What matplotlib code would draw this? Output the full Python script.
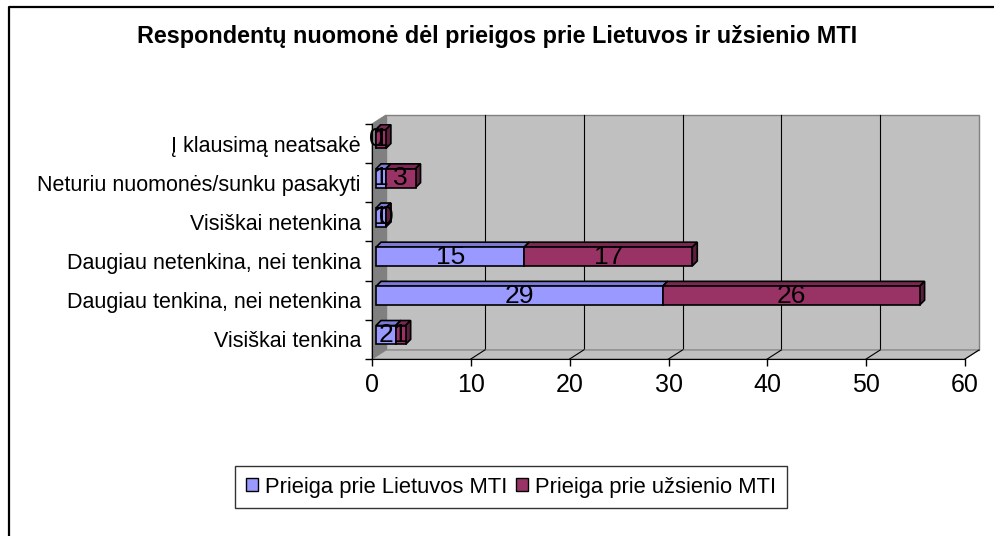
import matplotlib.pyplot as plt
from matplotlib.patches import Polygon, Rectangle
from matplotlib.lines import Line2D

plt.rcParams['font.family'] = ['Liberation Sans', 'DejaVu Sans']

categories = ['Visiškai tenkina', 'Daugiau tenkina, nei netenkina',
              'Daugiau netenkina, nei tenkina', 'Visiškai netenkina',
              'Neturiu nuomonės/sunku pasakyti', 'Į klausimą neatsakė']
lietuvos = [2, 29, 15, 1, 1, 0]
uzsienio = [1, 26, 17, 0, 3, 1]
series_names = ['Prieiga prie Lietuvos MTI', 'Prieiga prie užsienio MTI']
xticks = [0, 10, 20, 30, 40, 50, 60]
title = 'Respondentų nuomonė dėl prieigos prie Lietuvos ir užsienio MTI'

W, H = 995, 536
fig = plt.figure(figsize=(W / 100, H / 100), dpi=100)

# front plane of the 3d box, in pixels
x0p, x1p, ytop, ybot = 372, 965, 124, 359
ax = fig.add_axes([x0p / W, 1 - ybot / H, (x1p - x0p) / W, (ybot - ytop) / H])
ax.set_xlim(0, 60)
ax.set_ylim(-0.5, len(categories) - 0.5)
ax.patch.set_visible(False)
for s in ['top', 'right']:
    ax.spines[s].set_visible(False)
ax.spines['left'].set_color('black')
ax.spines['bottom'].set_color('black')

fig.canvas.draw()


def px2data(dxp, dyp):
    o = ax.transData.transform((0, 0))
    inv = ax.transData.inverted()
    p = inv.transform((o[0] + dxp, o[1] + dyp))
    return p[0], p[1]


ymin, ymax = -0.5, len(categories) - 0.5
wdx, wdy = px2data(14, 9)

# back wall
ax.add_patch(Rectangle((wdx, ymin + wdy), 60, ymax - ymin, facecolor='#c0c0c0',
                       edgecolor='#808080', lw=1, clip_on=False, zorder=0))
for x in xticks[1:-1]:
    ax.plot([x + wdx, x + wdx], [ymin + wdy, ymax + wdy], color='black', lw=0.8,
            clip_on=False, zorder=0.5)
# left wall
ax.add_patch(Polygon([(0, ymin), (0, ymax), (wdx, ymax + wdy), (wdx, ymin + wdy)],
                     closed=True, facecolor='#808080', edgecolor='#808080', lw=0.8,
                     clip_on=False, zorder=0.6))
# floor
ax.add_patch(Polygon([(0, ymin), (60, ymin), (60 + wdx, ymin + wdy), (wdx, ymin + wdy)],
                     closed=True, facecolor='#c0c0c0', edgecolor='#808080', lw=0.8,
                     clip_on=False, zorder=0.6))
for x in xticks[1:]:
    ax.plot([x, x + wdx], [ymin, ymin + wdy], color='black', lw=0.8,
            clip_on=False, zorder=0.7)

# bars
bx, by = px2data(4, 4.5)
ddx, ddy = px2data(5, 5)
bh = 0.48
styles = [('#9999ff', '#7b7bd6', '#5c5ca8'), ('#993366', '#7a2952', '#5c1f3d')]
z = 2
for i in range(len(categories)):
    left = 0
    for vals, (front, top, side) in zip([lietuvos, uzsienio], styles):
        w = vals[i]
        xl = left + bx
        yb = i - bh / 2 + by
        yt = i + bh / 2 + by
        ax.add_patch(Polygon([(xl, yt), (xl + w, yt), (xl + w + ddx, yt + ddy), (xl + ddx, yt + ddy)],
                             closed=True, facecolor=top, edgecolor='black', lw=1.2, zorder=z))
        ax.add_patch(Polygon([(xl + w, yb), (xl + w + ddx, yb + ddy), (xl + w + ddx, yt + ddy), (xl + w, yt)],
                             closed=True, facecolor=side, edgecolor='black', lw=1.2, zorder=z))
        ax.add_patch(Rectangle((xl, yb), w, bh, facecolor=front, edgecolor='black',
                               lw=1.2, zorder=z + 0.1))
        ax.text(xl + w / 2, i + by, str(w), ha='center', va='center', fontsize=19,
                color='black', zorder=10)
        left += w
        z += 0.2

ax.set_xticks(xticks)
ax.set_xticklabels([str(t) for t in xticks], fontsize=18)
ax.tick_params(axis='x', direction='out', length=5, width=1, pad=5)
ax.set_yticks([k - 0.5 for k in range(len(categories) + 1)])
ax.set_yticklabels([])
ax.tick_params(axis='y', which='major', direction='out', length=5, width=1)
ax.set_yticks(range(len(categories)), minor=True)
ax.set_yticklabels(categories, minor=True, fontsize=15.5)
ax.tick_params(axis='y', which='minor', length=0, pad=8)

fig.text(0.5, 1 - 37 / H, title, ha='center', va='center', fontsize=16.8,
         fontweight='bold')

handles = [Rectangle((0, 0), 1, 1, facecolor=s[0], edgecolor='black', lw=1) for s in styles]
leg = fig.legend(handles, series_names, loc='center', bbox_to_anchor=(511 / W, 1 - 487 / H),
                 ncol=2, fontsize=15.8, frameon=True, fancybox=False, handlelength=0.55,
                 handleheight=0.55, handletextpad=0.3, columnspacing=0.4, borderpad=0.5)
leg.get_frame().set_edgecolor('black')
leg.get_frame().set_linewidth(1)

# outer chart border (only top and left show)
fig.add_artist(Line2D([9 / W, 9 / W, 1], [0, 1 - 7 / H, 1 - 7 / H], color='black', lw=1.6,
                      transform=fig.transFigure))

fig.savefig('out.png', dpi=100)
